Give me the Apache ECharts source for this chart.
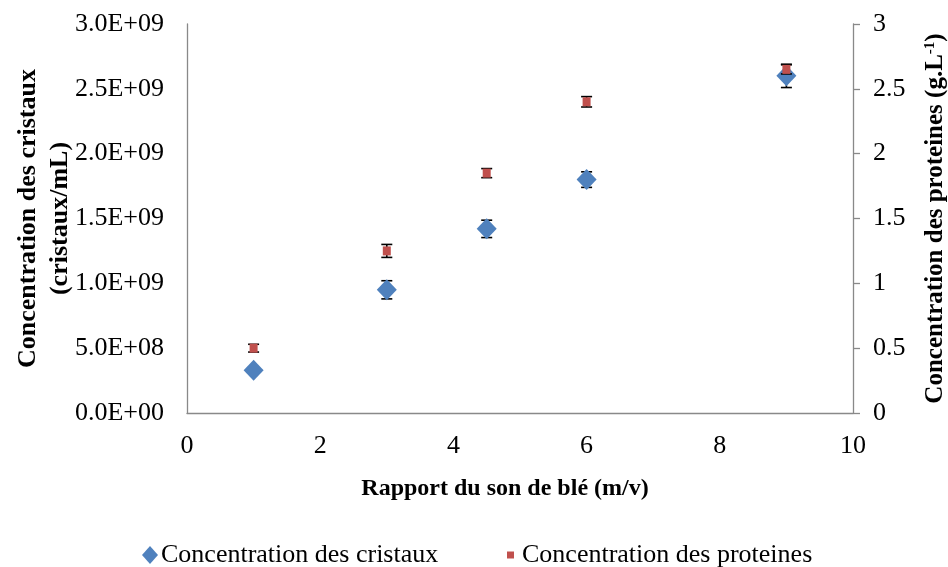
<!DOCTYPE html>
<html><head><meta charset="utf-8">
<script src="https://cdn.jsdelivr.net/npm/echarts@6/dist/echarts.min.js"></script>
<style>html,body{margin:0;padding:0;background:#fff}#c{width:948px;height:567px}</style>
</head><body><div id="c"></div>
<script>
var ratio = [1, 3, 4.5, 6, 9];
var cristaux = [3.3e8, 9.5e8, 1.42e9, 1.8e9, 2.6e9];
var cristauxErr = [2e7, 7e7, 6.7e7, 6e7, 9e7];
var proteines = [0.5, 1.25, 1.85, 2.4, 2.65];
var proteinesErr = [0.03, 0.05, 0.035, 0.04, 0.035];
var leftTicks = ['0.0E+00','5.0E+08','1.0E+09','1.5E+09','2.0E+09','2.5E+09','3.0E+09'];
var rightTicks = ['0','0.5','1','1.5','2','2.5','3'];

var FONT = 'Liberation Serif';
function pts(xs, ys){ return xs.map(function(x,i){return [x, ys[i]];}); }
function errPts(xs, ys, es){ return xs.map(function(x,i){return [x, ys[i], es[i]];}); }

function errRender(params, api){
  var x = api.value(0), y = api.value(1), e = api.value(2);
  var top = api.coord([x, y + e]), bot = api.coord([x, y - e]);
  var hw = 5.5;
  var st = {stroke:'#000', lineWidth:1.6};
  return {type:'group', children:[
    {type:'line', shape:{x1:top[0], y1:top[1], x2:bot[0], y2:bot[1]}, style:st},
    {type:'line', shape:{x1:top[0]-hw, y1:top[1], x2:top[0]+hw, y2:top[1]}, style:st},
    {type:'line', shape:{x1:bot[0]-hw, y1:bot[1], x2:bot[0]+hw, y2:bot[1]}, style:st}
  ]};
}

var axisLine = {show:true, lineStyle:{color:'#898989', width:1.3}};
var chart = echarts.init(document.getElementById('c'));
chart.setOption({
  animation:false,
  textStyle:{fontFamily:FONT},
  grid:{left:187, right:95, top:24, bottom:154, containLabel:false, outerBoundsMode:'none'},
  legend:[
    {left:137, top:537, itemWidth:16, itemHeight:18, itemGap:10, textStyle:{fontFamily:FONT, fontSize:26, color:'#000', padding:[0,0,0,-2]},
     data:[{name:'Concentration des cristaux', icon:'diamond'}]},
    {left:502, top:537, itemWidth:7, itemHeight:7, textStyle:{fontFamily:FONT, fontSize:26, color:'#000', padding:[0,0,0,3]},
     data:[{name:'Concentration des proteines', icon:'rect'}]}
  ],
  xAxis:{type:'value', min:0, max:10, interval:2,
    axisLine:axisLine, axisTick:{show:false}, splitLine:{show:false},
    axisLabel:{fontFamily:FONT, fontSize:26, color:'#000', margin:20},
    name:'Rapport du son de blé (m/v)', nameLocation:'middle', nameGap:64, nameMoveOverlap:false,
    nameTextStyle:{fontFamily:FONT, fontSize:24, fontWeight:'bold', color:'#000', padding:[0,30,0,0]}},
  yAxis:[
    {type:'value', min:0, max:3e9, interval:5e8, position:'left',
     axisLine:axisLine, axisTick:{show:false}, splitLine:{show:false},
     axisLabel:{fontFamily:FONT, fontSize:26, color:'#000', margin:23,
       formatter:function(v){ return leftTicks[Math.round(v/5e8)]; }},
     name:'Concentration des cristaux\n(cristaux/mL)', nameLocation:'middle', nameRotate:90, nameGap:111, nameMoveOverlap:false,
     nameTextStyle:{fontFamily:FONT, fontSize:26, fontWeight:'bold', color:'#000', lineHeight:32}},
    {type:'value', min:0, max:3, interval:0.5, position:'right',
     axisLine:axisLine, axisTick:{show:true, inside:false, length:7, lineStyle:{color:'#898989', width:1.3}}, splitLine:{show:false},
     axisLabel:{fontFamily:FONT, fontSize:26, color:'#000', margin:20,
       formatter:function(v){ return rightTicks[Math.round(v/0.5)]; }},
     name:'{a|Concentration des proteines (g.L}{s|-1}{a|)}', nameLocation:'middle', nameRotate:90, nameGap:70, nameMoveOverlap:false,
     nameTextStyle:{rich:{
       a:{fontFamily:FONT, fontSize:25, fontWeight:'bold', color:'#000'},
       s:{fontFamily:FONT, fontSize:15, fontWeight:'bold', color:'#000', verticalAlign:'top', padding:[0,0,10,0]}}}}
  ],
  series:[
    {type:'custom', yAxisIndex:0, renderItem:errRender, data:errPts(ratio, cristaux, cristauxErr), z:1, silent:true},
    {name:'Concentration des cristaux', type:'scatter', yAxisIndex:0, symbol:'diamond', symbolSize:[20,21],
     itemStyle:{color:'#4F81BD', opacity:1}, data:pts(ratio, cristaux), z:2},
    {type:'custom', yAxisIndex:1, renderItem:errRender, data:errPts(ratio, proteines, proteinesErr), z:3, silent:true},
    {name:'Concentration des proteines', type:'scatter', yAxisIndex:1, symbol:'rect', symbolSize:[8,9],
     itemStyle:{color:'#C0504D', opacity:1}, data:pts(ratio, proteines), z:4}
  ]
});
</script></body></html>
